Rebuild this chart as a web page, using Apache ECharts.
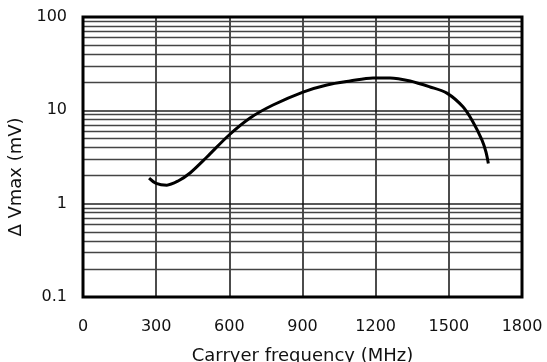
<!DOCTYPE html>
<html>
<head>
<meta charset="utf-8">
<script src="https://cdn.jsdelivr.net/npm/echarts@6/dist/echarts.min.js"></script>
<style>
html,body{margin:0;padding:0;background:#fff;}
#c{width:547px;height:362px;}
</style>
</head>
<body>
<div id="c"></div>
<script>
// Carrier frequency (MHz) and Δ Vmax (mV)
var freqMHz = [271, 300, 344, 390, 439, 508, 599, 685, 779, 902, 1000, 1095, 1189, 1259, 1341, 1423, 1492, 1558, 1599, 1636, 1652, 1662];
var deltaVmax = [1.88, 1.65, 1.58, 1.75, 2.13, 3.16, 5.44, 8.28, 11.4, 15.7, 18.7, 20.6, 22.2, 22.2, 20.6, 17.8, 15.3, 10.9, 7.5, 4.8, 3.6, 2.7];
var xTicks = [0, 300, 600, 900, 1200, 1500, 1800];
var yDecades = [0.1, 1, 10, 100];
var yMinorLines = [0.2, 0.3, 0.4, 0.5, 0.6, 0.7, 0.8, 0.9, 2, 3, 4, 5, 6, 7, 8, 9, 20, 30, 40, 50, 60, 70, 80, 90];

var curve = freqMHz.map(function (f, i) { return [f, deltaVmax[i]]; });
var font = 'DejaVu Sans';

var chart = echarts.init(document.getElementById('c'), null, {renderer: 'canvas'});
chart.setOption({
  backgroundColor: '#fff',
  animation: false,
  grid: {left: 83, top: 17, width: 439, height: 280, outerBoundsMode: 'none', containLabel: false,
    show: true, borderColor: '#000', borderWidth: 3, backgroundColor: 'transparent', z: 10},
  xAxis: {
    type: 'value', min: xTicks[0], max: xTicks[xTicks.length - 1], interval: 300,
    name: 'Carryer frequency (MHz)', nameLocation: 'middle', nameGap: 50,
    nameTextStyle: {fontFamily: font, fontSize: 18, color: '#111'},
    axisLine: {show: false}, axisTick: {show: false},
    axisLabel: {fontFamily: font, fontSize: 16, color: '#111', margin: 22,
      formatter: function (v) { return String(v); }},
    splitLine: {show: true, lineStyle: {color: '#111', width: 1.5}}
  },
  yAxis: {
    type: 'log', min: yDecades[0], max: yDecades[yDecades.length - 1], logBase: 10,
    name: 'Δ Vmax (mV)', nameLocation: 'middle', nameGap: 53, nameRotate: 90,
    nameTextStyle: {fontFamily: font, fontSize: 18, color: '#111', padding: [0, 40, 0, 0]},
    axisLine: {show: false}, axisTick: {show: false},
    axisLabel: {fontFamily: font, fontSize: 16, color: '#111', margin: 16,
      formatter: function (v) { return String(v); }},
    splitLine: {show: true, lineStyle: {color: '#222', width: 1.5}}
  },
  series: [
    {
      type: 'line', data: [], z: 1, silent: true,
      markLine: {
        silent: true, symbol: ['none', 'none'], label: {show: false},
        lineStyle: {color: '#444', width: 1.4, type: 'solid'},
        data: yMinorLines.map(function (v) { return {yAxis: v}; })
      }
    },
    {
      type: 'line', data: curve, smooth: 0.3, showSymbol: false, z: 5,
      lineStyle: {color: '#000', width: 3}
    }
  ]
});
</script>
</body>
</html>
